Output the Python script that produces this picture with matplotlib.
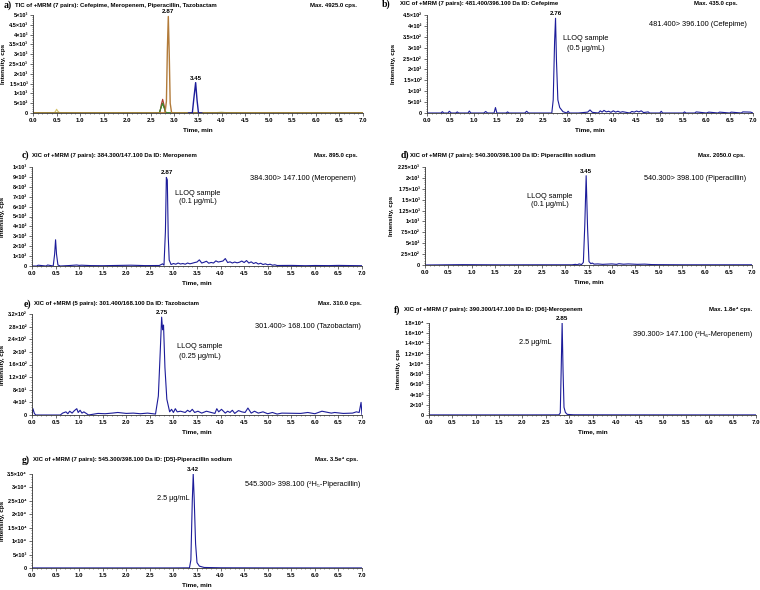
import matplotlib
matplotlib.use("Agg")
import matplotlib.pyplot as plt
from matplotlib.ticker import MultipleLocator, AutoMinorLocator

plt.rcParams['font.family'] = ['Liberation Sans', 'DejaVu Sans']

W, H = 760, 590
BLUE = '#1c1c9a'

# ---------------- data ----------------
# Panel a (TIC) - several overlaid traces
a_green_t = [0.0, 0.3, 0.5, 0.7, 1.0, 1.5, 2.0, 2.5, 2.68, 2.72, 2.75, 2.78, 2.82, 3.0, 3.5, 4.0, 4.5, 5.0, 5.5, 6.0, 6.5, 7.0]
a_green_y = [8, 10, 12, 8, 6, 8, 6, 8, 20, 300, 500, 280, 20, 10, 12, 25, 10, 8, 8, 8, 8, 8]
a_yellow_t = [0.0, 0.45, 0.48, 0.50, 0.53, 0.57, 1.0, 2.0, 2.8, 3.5, 3.9, 4.0, 4.1, 5.0, 7.0]
a_yellow_y = [5, 5, 90, 190, 80, 5, 5, 5, 5, 5, 20, 30, 15, 5, 5]
a_red_t = [2.60, 2.69, 2.72, 2.75, 2.78, 2.81, 2.88]
a_red_y = [0, 10, 420, 700, 400, 10, 0]
a_brown_t = [0.0, 2.5, 2.80, 2.83, 2.85, 2.87, 2.89, 2.91, 2.94, 3.2, 7.0]
a_brown_y = [3, 3, 5, 600, 3200, 4925, 3000, 500, 5, 3, 3]
a_blue_t = [3.30, 3.38, 3.41, 3.45, 3.48, 3.51, 3.58]
a_blue_y = [0, 5, 700, 1550, 650, 5, 0]

# Panel b (Cefepime)
b_t = [0.0, 0.30, 0.33, 0.36, 0.45, 0.48, 0.52, 0.62, 0.65, 0.68, 0.88, 0.91, 0.94, 1.22, 1.26, 1.30,
       1.34, 1.44, 1.47, 1.50, 1.70, 1.73, 1.76, 2.10, 2.14, 2.18, 2.68, 2.71, 2.74, 2.76, 2.78, 2.81,
       2.85, 2.92, 3.00, 3.03, 3.06, 3.25, 3.45, 3.50, 3.55, 3.68, 3.72, 3.76, 3.80, 3.85, 3.90, 3.95,
       4.00, 4.05, 4.10, 4.15, 4.20, 4.35, 4.40, 4.45, 4.50, 4.55, 4.60, 4.65, 4.75, 4.78, 5.00, 5.03,
       5.06, 5.50, 5.53, 5.56, 5.75, 5.78, 6.00, 6.05, 6.25, 6.28, 6.50, 6.53, 6.75, 6.78, 6.95, 7.0]
b_y = [0, 0, 6, 0, 0, 8, 0, 0, 5, 0, 0, 9, 0, 0, 7, 0,
       0, 0, 25, 0, 0, 5, 0, 0, 8, 0, 0, 60, 330, 435, 240, 60,
       25, 6, 0, 8, 0, 0, 4, 14, 3, 0, 10, 4, 12, 5, 8, 3,
       10, 4, 8, 3, 6, 0, 7, 4, 9, 5, 10, 2, 5, 0, 0, 8,
       0, 0, 5, 0, 0, 5, 0, 4, 0, 4, 0, 4, 0, 5, 4, 0]

# Panel c (Meropenem)
c_t = [0.0, 0.10, 0.13, 0.30, 0.33, 0.45, 0.48, 0.50, 0.52, 0.55, 0.60, 0.80, 0.95, 1.00, 1.05, 1.25,
       1.50, 2.10, 2.40, 2.70, 2.77, 2.80, 2.83, 2.85, 2.87, 2.89, 2.91, 2.95, 3.00, 3.05, 3.10, 3.15,
       3.20, 3.25, 3.30, 3.35, 3.40, 3.45, 3.50, 3.55, 3.60, 3.65, 3.70, 3.75, 3.80, 3.85, 3.90, 3.95,
       4.00, 4.05, 4.10, 4.15, 4.20, 4.25, 4.30, 4.35, 4.40, 4.45, 4.50, 4.55, 4.60, 4.65, 4.70, 4.75,
       4.80, 4.85, 4.90, 4.95, 5.00, 5.05, 5.10, 5.15, 5.20, 5.50, 5.80, 6.00, 6.30, 6.50, 6.80, 7.0]
c_y = [0, 0, 8, 0, 10, 0, 120, 265, 120, 10, 0, 5, 10, 6, 8, 4,
       3, 8, 4, 5, 22, 8, 350, 895, 870, 300, 60, 15, 25, 18, 30, 20,
       25, 18, 30, 22, 28, 35, 40, 62, 30, 38, 48, 28, 36, 30, 52, 40,
       45, 50, 75, 35, 42, 30, 40, 32, 38, 50, 35, 55, 30, 42, 25, 35,
       20, 28, 15, 22, 12, 18, 8, 12, 5, 6, 3, 5, 4, 6, 4, 3]

# Panel d (Piperacillin)
d_t = [0.0, 0.8, 1.6, 2.5, 3.15, 3.22, 3.26, 3.30, 3.35, 3.39, 3.42, 3.45, 3.48, 3.51, 3.55, 3.58,
       3.62, 3.70, 3.80, 3.90, 4.00, 4.10, 4.15, 4.25, 4.35, 4.45, 4.55, 4.70, 4.85, 5.0, 5.5, 6.0, 7.0]
d_y = [0, 8, 4, 5, 5, 15, 5, 25, 10, 60, 900, 2050, 850, 80, 30, 45,
       20, 25, 15, 20, 25, 15, 30, 18, 25, 20, 15, 20, 10, 8, 5, 5, 5]

# Panel e (Tazobactam)
e_t = [0.0, 0.02, 0.05, 0.08, 0.60, 0.65, 0.72, 0.76, 0.80, 0.85, 0.90, 0.95, 0.98, 1.02, 1.06, 1.10,
       1.20, 1.40, 1.55, 1.70, 1.82, 2.00, 2.15, 2.30, 2.45, 2.62, 2.68, 2.72, 2.75, 2.77, 2.79, 2.82,
       2.86, 2.92, 2.96, 3.00, 3.04, 3.08, 3.15, 3.25, 3.30, 3.35, 3.40, 3.45, 3.52, 3.60, 3.70, 3.80,
       3.88, 3.92, 3.96, 4.02, 4.10, 4.15, 4.20, 4.25, 4.30, 4.38, 4.45, 4.52, 4.58, 4.65, 4.72, 4.80,
       4.90, 5.00, 5.10, 5.20, 5.30, 5.70, 5.85, 6.00, 6.15, 6.35, 6.42, 6.60, 6.80, 6.88, 6.94, 6.98, 7.0]
e_y = [0, 20, 5, 0, 0, 6, 10, 4, 12, 6, 14, 20, 8, 15, 6, 10,
       0, 5, 4, 6, 8, 5, 6, 4, 6, 3, 60, 200, 310, 270, 285, 150,
       50, 10, 18, 8, 20, 10, 12, 8, 15, 10, 18, 8, 12, 6, 12, 8,
       5, 20, 10, 18, 6, 12, 8, 15, 5, 14, 10, 8, 22, 6, 12, 6,
       10, 4, 8, 3, 6, 5, 8, 4, 12, 6, 8, 5, 6, 10, 8, 40, 0]

# Panel f ([D6]-Meropenem)
f_t = [0.0, 1.0, 2.0, 2.78, 2.81, 2.83, 2.85, 2.87, 2.89, 2.92, 2.96, 3.1, 4.0, 5.0, 6.0, 7.0]
f_y = [20, 20, 20, 30, 400, 9000, 18000, 8500, 1500, 500, 120, 40, 30, 25, 20, 20]

# Panel g ([D5]-Piperacillin)
g_t = [0.0, 1.0, 2.0, 3.0, 3.34, 3.37, 3.40, 3.42, 3.44, 3.47, 3.50, 3.55, 3.65, 4.0, 5.0, 6.0, 7.0]
g_y = [30, 30, 30, 30, 60, 3000, 25000, 35000, 26000, 9000, 2000, 700, 200, 80, 40, 30, 30]

# y tick values / labels
a_yticks = [0, 500, 1000, 1500, 2000, 2500, 3000, 3500, 4000, 4500, 5000]
a_ylabels = ['0', '5×10²', '1×10³', '1.5×10³', '2×10³', '2.5×10³', '3×10³', '3.5×10³', '4×10³', '4.5×10³', '5×10³']
b_yticks = [0, 50, 100, 150, 200, 250, 300, 350, 400, 450]
b_ylabels = ['0', '5×10¹', '1×10²', '1.5×10²', '2×10²', '2.5×10²', '3×10²', '3.5×10²', '4×10²', '4.5×10²']
c_yticks = [0, 100, 200, 300, 400, 500, 600, 700, 800, 900, 1000]
c_ylabels = ['0', '1×10²', '2×10²', '3×10²', '4×10²', '5×10²', '6×10²', '7×10²', '8×10²', '9×10²', '1×10³']
d_yticks = [0, 250, 500, 750, 1000, 1250, 1500, 1750, 2000, 2250]
d_ylabels = ['0', '2.5×10²', '5×10²', '7.5×10²', '1×10³', '1.25×10³', '1.5×10³', '1.75×10³', '2×10³', '2.25×10³']
e_yticks = [0, 40, 80, 120, 160, 200, 240, 280, 320]
e_ylabels = ['0', '4×10¹', '8×10¹', '1.2×10²', '1.6×10²', '2×10²', '2.4×10²', '2.8×10²', '3.2×10²']
f_yticks = [0, 2000, 4000, 6000, 8000, 10000, 12000, 14000, 16000, 18000]
f_ylabels = ['0', '2×10³', '4×10³', '6×10³', '8×10³', '1×10⁴', '1.2×10⁴', '1.4×10⁴', '1.6×10⁴', '1.8×10⁴']
g_yticks = [0, 5000, 10000, 15000, 20000, 25000, 30000, 35000]
g_ylabels = ['0', '5×10³', '1×10⁴', '1.5×10⁴', '2×10⁴', '2.5×10⁴', '3×10⁴', '3.5×10⁴']

x_ticks = [0.0, 0.5, 1.0, 1.5, 2.0, 2.5, 3.0, 3.5, 4.0, 4.5, 5.0, 5.5, 6.0, 6.5, 7.0]

fig = plt.figure(figsize=(W / 100, H / 100), dpi=100)


def fx(x):
    return x / W


def fy(y):
    return 1 - y / H


def make_axes(left, right, top, bottom, yticks, ylabels):
    ax = fig.add_axes([fx(left), fy(bottom), (right - left) / W, (bottom - top) / H])
    ax.set_xlim(0, 7.0)
    ax.set_ylim(0, yticks[-1])
    for s in ('top', 'right'):
        ax.spines[s].set_visible(False)
    for s in ('left', 'bottom'):
        ax.spines[s].set_linewidth(0.6)
        ax.spines[s].set_color('#333333')
    ax.set_xticks(x_ticks)
    ax.set_xticklabels(['%.1f' % v for v in x_ticks], fontsize=4.4, fontweight='bold')
    ax.set_yticks(yticks)
    ax.set_yticklabels(ylabels, fontsize=4.0, fontweight='bold')
    ax.xaxis.set_minor_locator(MultipleLocator(0.1))
    ax.yaxis.set_minor_locator(AutoMinorLocator(5))
    ax.tick_params(which='major', length=2.0, width=0.5, pad=1.5, colors='#333333', labelcolor='black')
    ax.tick_params(which='minor', length=1.0, width=0.4, colors='#333333')
    ax.set_xlabel('Time, min', fontsize=4.6, fontweight='bold', labelpad=3)
    ax.set_ylabel('Intensity, cps', fontsize=4.6, fontweight='bold', labelpad=1.5)
    return ax


def header(letter, lx, title, tx, maxtxt, mx, y):
    fig.text(fx(lx), fy(y), letter, family='Liberation Serif', fontsize=7, fontweight='bold', va='center', ha='left')
    fig.text(fx(tx), fy(y), title, fontsize=4.3, fontweight='bold', va='center', ha='left')
    fig.text(fx(mx), fy(y), maxtxt, fontsize=4.3, fontweight='bold', va='center', ha='right')


def peak_label(ax, t, v, txt):
    ax.annotate(txt, (t, v), xytext=(0, 1.5), textcoords='offset points', ha='center', va='bottom',
                fontsize=4.5, fontweight='bold', annotation_clip=False)


# ---- a ----
ax = make_axes(33, 363, 15, 113, a_yticks, a_ylabels)
ax.plot(a_green_t, a_green_y, color='#3c8a2e', lw=0.8)
ax.plot(a_yellow_t, a_yellow_y, color='#d6c46a', lw=0.8)
ax.plot(a_red_t, a_red_y, color='#a8352c', lw=0.8)
ax.plot(a_green_t, a_green_y, color='#3c8a2e', lw=0.8)
ax.plot(a_brown_t, a_brown_y, color='#b27b3a', lw=1.0)
ax.plot(a_blue_t, a_blue_y, color=BLUE, lw=1.0)
peak_label(ax, 2.87, 4925, '2.87')
peak_label(ax, 3.45, 1550, '3.45')
ax.yaxis.set_label_coords(-0.082, 0.5)
header('a)', 4, 'TIC of +MRM (7 pairs): Cefepime, Meropenem, Piperacillin, Tazobactam', 15,
       'Max. 4925.0 cps.', 357, 5)

# ---- b ----
ax = make_axes(427, 753, 15, 113, b_yticks, b_ylabels)
ax.plot(b_t, b_y, color=BLUE, lw=0.8)
peak_label(ax, 2.76, 435, '2.76')
ax.yaxis.set_label_coords(-0.095, 0.5)
fig.text(fx(586), fy(39), 'LLOQ sample', fontsize=5.3, ha='center', va='center')
fig.text(fx(586), fy(48), '(0.5 μg/mL)', fontsize=5.3, ha='center', va='center')
fig.text(fx(747), fy(25), '481.400> 396.100 (Cefepime)', fontsize=5.3, ha='right', va='center')
header('b)', 382, 'XIC of +MRM (7 pairs): 481.400/396.100 Da ID: Cefepime', 400,
       'Max. 435.0 cps.', 737, 4)

# ---- c ----
ax = make_axes(32, 362, 167, 266, c_yticks, c_ylabels)
ax.plot(c_t, c_y, color=BLUE, lw=0.8)
peak_label(ax, 2.87, 895, '2.87')
ax.yaxis.set_label_coords(-0.082, 0.5)
fig.text(fx(198), fy(193), 'LLOQ sample', fontsize=5.3, ha='center', va='center')
fig.text(fx(198), fy(202), '(0.1 μg/mL)', fontsize=5.3, ha='center', va='center')
fig.text(fx(356), fy(179), '384.300> 147.100 (Meropenem)', fontsize=5.3, ha='right', va='center')
header('c)', 22, 'XIC of +MRM (7 pairs): 384.300/147.100 Da ID: Meropenem', 32,
       'Max. 895.0 cps.', 358, 155)

# ---- d ----
ax = make_axes(425, 752, 167, 265, d_yticks, d_ylabels)
ax.plot(d_t, d_y, color=BLUE, lw=0.8)
peak_label(ax, 3.45, 2050, '3.45')
ax.yaxis.set_label_coords(-0.095, 0.5)
fig.text(fx(550), fy(196), 'LLOQ sample', fontsize=5.3, ha='center', va='center')
fig.text(fx(550), fy(205), '(0.1 μg/mL)', fontsize=5.3, ha='center', va='center')
fig.text(fx(746), fy(179), '540.300> 398.100 (Piperacillin)', fontsize=5.3, ha='right', va='center')
header('d)', 401, 'XIC of +MRM (7 pairs): 540.300/398.100 Da ID: Piperacillin sodium', 410,
       'Max. 2050.0 cps.', 745, 155)

# ---- e ----
ax = make_axes(32, 362, 314, 415, e_yticks, e_ylabels)
ax.plot(e_t, e_y, color=BLUE, lw=0.8)
peak_label(ax, 2.75, 310, '2.75')
ax.yaxis.set_label_coords(-0.082, 0.5)
fig.text(fx(200), fy(347), 'LLOQ sample', fontsize=5.3, ha='center', va='center')
fig.text(fx(200), fy(356), '(0.25 μg/mL)', fontsize=5.3, ha='center', va='center')
fig.text(fx(361), fy(327), '301.400> 168.100 (Tazobactam)', fontsize=5.3, ha='right', va='center')
header('e)', 24, 'XIC of +MRM (5 pairs): 301.400/168.100 Da ID: Tazobactam', 34,
       'Max. 310.0 cps.', 362, 304)

# ---- f ----
ax = make_axes(429, 756, 323, 415, f_yticks, f_ylabels)
ax.plot(f_t, f_y, color=BLUE, lw=0.8)
peak_label(ax, 2.85, 18000, '2.85')
ax.yaxis.set_label_coords(-0.085, 0.5)
fig.text(fx(535), fy(343), '2.5 μg/mL', fontsize=5.3, ha='center', va='center')
fig.text(fx(752), fy(335), '390.300> 147.100 (²H₆-Meropenem)', fontsize=5.3, ha='right', va='center')
header('f)', 394, 'XIC of +MRM (7 pairs): 390.300/147.100 Da ID: [D6]-Meropenem', 404,
       'Max. 1.8e⁴ cps.', 752, 310)

# ---- g ----
ax = make_axes(32, 362, 474, 568, g_yticks, g_ylabels)
ax.plot(g_t, g_y, color=BLUE, lw=0.8)
peak_label(ax, 3.42, 35000, '3.42')
ax.yaxis.set_label_coords(-0.082, 0.5)
fig.text(fx(173), fy(498), '2.5 μg/mL', fontsize=5.3, ha='center', va='center')
fig.text(fx(360), fy(485), '545.300> 398.100 (²H₅-Piperacillin)', fontsize=5.3, ha='right', va='center')
header('g)', 22, 'XIC of +MRM (7 pairs): 545.300/398.100 Da ID: [D5]-Piperacillin sodium', 33,
       'Max. 3.5e⁴ cps.', 358, 460)

fig.savefig('out.png', dpi=100, facecolor='white')
